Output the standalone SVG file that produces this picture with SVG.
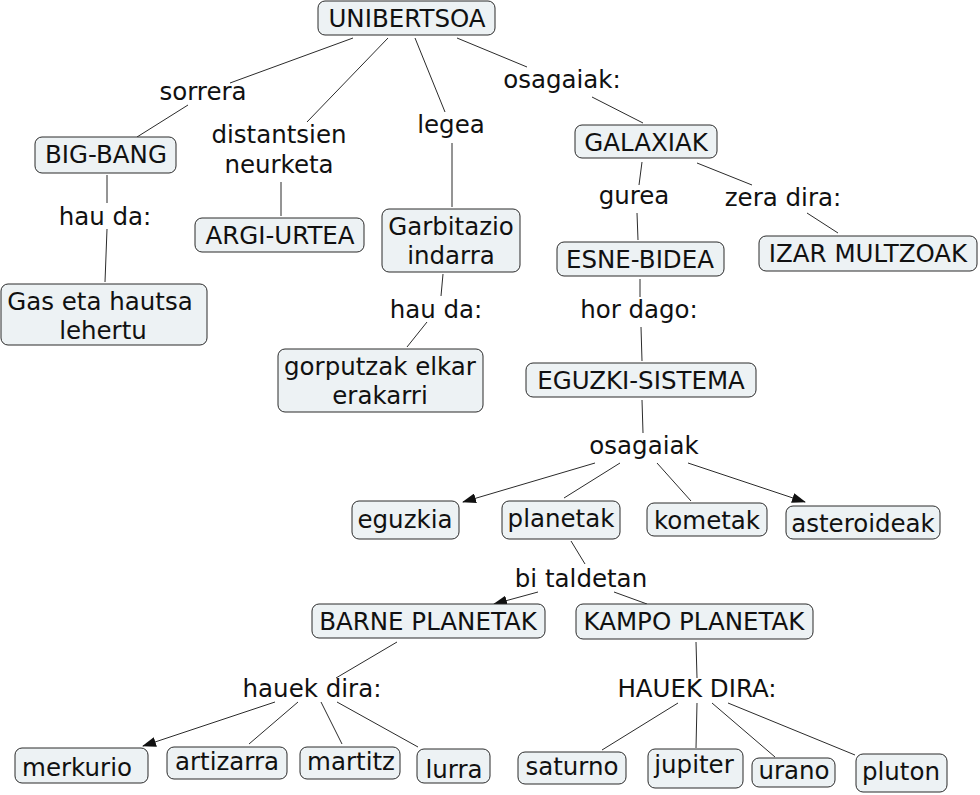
<svg xmlns="http://www.w3.org/2000/svg" width="980" height="795" viewBox="0 0 980 795">
<style>
.n rect{fill:#edf2f4;stroke:#2b2b2b;stroke-width:1}
text{font-family:"DejaVu Sans",Verdana,sans-serif;font-size:24.5px;fill:#111;text-anchor:middle}
.c line{stroke:#2b2b2b;stroke-width:1}
.a{marker-end:url(#arr)}
</style>
<defs>
<marker id="arr" markerUnits="userSpaceOnUse" markerWidth="14" markerHeight="10" refX="13" refY="5" orient="auto">
<path d="M0,0 L14,5 L0,10 z" fill="#111"/>
</marker>
</defs>
<rect width="980" height="795" fill="#fff"/>
<g class="c" id="connectors">
<line x1="353" y1="38" x2="230" y2="83"/>
<line x1="188" y1="105" x2="137" y2="137"/>
<line x1="388" y1="38" x2="307" y2="122"/>
<line x1="281" y1="182" x2="281" y2="216"/>
<line x1="415" y1="38" x2="445" y2="112"/>
<line x1="452" y1="143" x2="452" y2="207"/>
<line x1="457" y1="38" x2="527" y2="67"/>
<line x1="592" y1="97" x2="643" y2="123"/>
<line x1="107" y1="175" x2="107" y2="203"/>
<line x1="107" y1="229" x2="105" y2="282"/>
<line x1="443" y1="274" x2="441" y2="296"/>
<line x1="427" y1="322" x2="407" y2="347"/>
<line x1="642" y1="162" x2="639" y2="185"/>
<line x1="637" y1="213" x2="638" y2="240"/>
<line x1="697" y1="163" x2="752" y2="185"/>
<line x1="807" y1="213" x2="838" y2="233"/>
<line x1="640" y1="279" x2="640" y2="297"/>
<line x1="641" y1="327" x2="642" y2="361"/>
<line x1="642" y1="400" x2="643" y2="433"/>
<line class="a" x1="595" y1="463" x2="463" y2="502"/>
<line x1="620" y1="463" x2="564" y2="498"/>
<line x1="657" y1="463" x2="691" y2="501"/>
<line class="a" x1="688" y1="463" x2="805" y2="502"/>
<line x1="571" y1="541" x2="585" y2="564"/>
<line class="a" x1="538" y1="592" x2="494" y2="604"/>
<line x1="614" y1="592" x2="647" y2="604"/>
<line x1="397" y1="642" x2="336" y2="678"/>
<line x1="696" y1="642" x2="697" y2="678"/>
<line class="a" x1="275" y1="702" x2="143" y2="746"/>
<line x1="298" y1="702" x2="249" y2="744"/>
<line x1="321" y1="702" x2="342" y2="744"/>
<line x1="337" y1="702" x2="418" y2="747"/>
<line x1="678" y1="703" x2="602" y2="750"/>
<line x1="697" y1="703" x2="696" y2="748"/>
<line x1="712" y1="703" x2="775" y2="757"/>
<line x1="728" y1="703" x2="855" y2="755"/>
</g>
<g id="labels">
<text x="203" y="100">sorrera</text>
<text x="279" y="143">distantsien</text>
<text x="279" y="173">neurketa</text>
<text x="451" y="133">legea</text>
<text x="562" y="88">osagaiak:</text>
<text x="105" y="225">hau da:</text>
<text x="436" y="318">hau da:</text>
<text x="634" y="204">gurea</text>
<text x="783" y="206">zera dira:</text>
<text x="639" y="318">hor dago:</text>
<text x="644" y="454">osagaiak</text>
<text x="581" y="587">bi taldetan</text>
<text x="312" y="697">hauek dira:</text>
<text x="697" y="697">HAUEK DIRA:</text>
</g>
<g class="n" id="unibertsoa"><rect x="318" y="1" width="177" height="34" rx="7"/><text x="407" y="27">UNIBERTSOA</text></g>
<g class="n" id="big-bang"><rect x="35" y="137" width="141" height="36" rx="7"/><text x="106" y="163">BIG-BANG</text></g>
<g class="n" id="argi-urtea"><rect x="195" y="218" width="169" height="34" rx="7"/><text x="280" y="244">ARGI-URTEA</text></g>
<g class="n" id="garbitazio"><rect x="382" y="209" width="138" height="63" rx="7"/><text x="451" y="235">Garbitazio</text><text x="451" y="264">indarra</text></g>
<g class="n" id="galaxiak"><rect x="575" y="125" width="142" height="33" rx="7"/><text x="646" y="151">GALAXIAK</text></g>
<g class="n" id="gas"><rect x="1" y="284" width="206" height="61" rx="7"/><text x="100" y="310">Gas eta hautsa</text><text x="103" y="339">lehertu</text></g>
<g class="n" id="gorputzak"><rect x="278" y="349" width="205" height="63" rx="7"/><text x="380" y="375">gorputzak elkar</text><text x="380" y="404">erakarri</text></g>
<g class="n" id="esne-bidea"><rect x="557" y="242" width="167" height="34" rx="7"/><text x="640" y="268">ESNE-BIDEA</text></g>
<g class="n" id="izar"><rect x="759" y="236" width="218" height="35" rx="7"/><text x="868" y="262">IZAR MULTZOAK</text></g>
<g class="n" id="eguzki-sistema"><rect x="526" y="363" width="230" height="34" rx="7"/><text x="641" y="389">EGUZKI-SISTEMA</text></g>
<g class="n" id="eguzkia"><rect x="352" y="501" width="107" height="38" rx="7"/><text x="405" y="528">eguzkia</text></g>
<g class="n" id="planetak"><rect x="502" y="501" width="118" height="38" rx="7"/><text x="561" y="527">planetak</text></g>
<g class="n" id="kometak"><rect x="647" y="503" width="120" height="33" rx="7"/><text x="707" y="529">kometak</text></g>
<g class="n" id="asteroideak"><rect x="786" y="506" width="154" height="33" rx="7"/><text x="863" y="532">asteroideak</text></g>
<g class="n" id="barne"><rect x="312" y="604" width="233" height="34" rx="7"/><text x="428" y="630">BARNE PLANETAK</text></g>
<g class="n" id="kampo"><rect x="576" y="604" width="237" height="35" rx="7"/><text x="694" y="630">KAMPO PLANETAK</text></g>
<g class="n" id="merkurio"><rect x="15" y="748" width="133" height="35" rx="7"/><text x="77" y="776">merkurio</text></g>
<g class="n" id="artizarra"><rect x="167" y="747" width="120" height="32" rx="7"/><text x="227" y="770">artizarra</text></g>
<g class="n" id="martitz"><rect x="300" y="747" width="100" height="32" rx="7"/><text x="351" y="770">martitz</text></g>
<g class="n" id="lurra"><rect x="417" y="749" width="73" height="34" rx="7"/><text x="454" y="778">lurra</text></g>
<g class="n" id="saturno"><rect x="518" y="752" width="108" height="32" rx="7"/><text x="572" y="775">saturno</text></g>
<g class="n" id="jupiter"><rect x="648" y="749" width="95" height="39" rx="7"/><text x="694" y="773">jupiter</text></g>
<g class="n" id="urano"><rect x="752" y="758" width="83" height="29" rx="7"/><text x="794" y="779">urano</text></g>
<g class="n" id="pluton"><rect x="856" y="754" width="91" height="38" rx="7"/><text x="901" y="780">pluton</text></g>
</svg>
